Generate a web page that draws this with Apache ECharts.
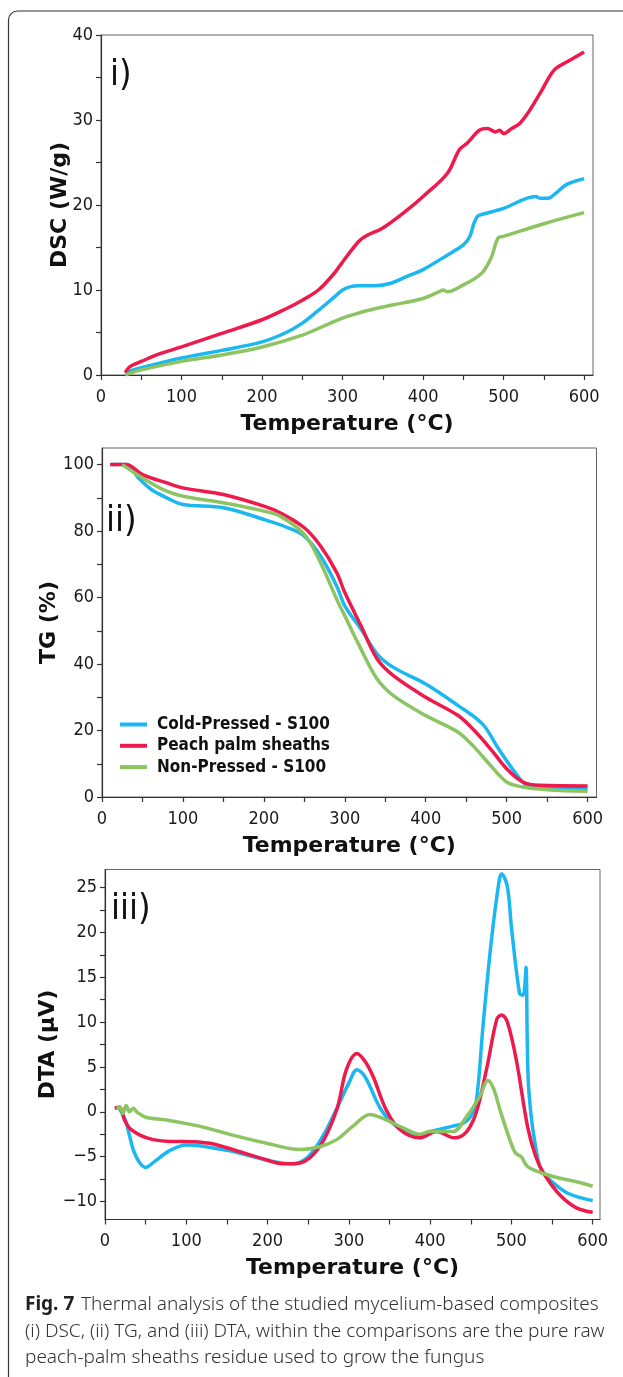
<!DOCTYPE html>
<html>
<head>
<meta charset="utf-8">
<script src="https://cdn.jsdelivr.net/npm/echarts@6/dist/echarts.min.js"></script>
<style>
  html, body { margin: 0; padding: 0; background: #fff; }
  #chart { width: 623px; height: 1377px; }
</style>
</head>
<body>
<div id="chart"></div>
<script>
// ---------- Tick labels ----------
const tempLabels = [0, 100, 200, 300, 400, 500, 600];
const tempTicks = [0, 50, 100, 150, 200, 250, 300, 350, 400, 450, 500, 550, 600];
const dscLabels = [0, 10, 20, 30, 40];
const dscTicks = [0, 5, 10, 15, 20, 25, 30, 35, 40];
const tgLabels = [0, 20, 40, 60, 80, 100];
const tgTicks = [0, 10, 20, 30, 40, 50, 60, 70, 80, 90, 100];
const dtaLabels = [-10, -5, 0, 5, 10, 15, 20, 25];
const dtaTicks = [-10, -7.5, -5, -2.5, 0, 2.5, 5, 7.5, 10, 12.5, 15, 17.5, 20, 22.5, 25];

const seriesNames = ['Cold-Pressed - S100', 'Peach palm sheaths', 'Non-Pressed - S100'];

// ---------- (i) DSC, W/g ----------
const dscColdT = [30, 40, 60, 100, 150, 200, 230, 250, 270, 290, 300, 310, 320, 340, 360, 380, 400, 430, 450, 458, 463, 467, 470, 500, 540, 545, 555, 565, 578, 600];
const dscCold  = [0.2, 0.6, 1.1, 2.0, 2.9, 3.9, 5.0, 6.1, 7.6, 9.2, 10.0, 10.4, 10.5, 10.5, 10.8, 11.6, 12.4, 14.1, 15.3, 16.3, 17.8, 18.6, 18.8, 19.6, 21.0, 20.8, 20.8, 21.4, 22.4, 23.1];
const dscPeachT = [30, 35, 40, 50, 70, 100, 150, 200, 230, 250, 270, 290, 300, 320, 330, 350, 380, 400, 430, 445, 455, 470, 480, 490, 495, 500, 510, 520, 530, 545, 563, 580, 600];
const dscPeach  = [0.3, 0.9, 1.2, 1.6, 2.4, 3.3, 4.9, 6.5, 7.8, 8.8, 10.0, 12.0, 13.3, 15.7, 16.4, 17.3, 19.4, 21.0, 23.7, 26.5, 27.3, 28.8, 29.0, 28.6, 28.8, 28.4, 29.0, 29.6, 30.8, 33.1, 35.9, 36.9, 38.0];
const dscNonT = [30, 50, 100, 150, 200, 250, 280, 300, 320, 340, 360, 400, 420, 425, 430, 450, 465, 475, 485, 493, 500, 550, 600];
const dscNon  = [0.0, 0.6, 1.6, 2.35, 3.3, 4.7, 5.9, 6.7, 7.3, 7.8, 8.2, 9.0, 9.8, 10.0, 9.8, 10.6, 11.4, 12.2, 13.9, 16.1, 16.3, 17.8, 19.1];

// ---------- (ii) TG, % ----------
const tgColdT = [12, 30, 45, 61, 80, 100, 150, 200, 230, 250, 270, 290, 300, 320, 340, 360, 400, 440, 470, 490, 510, 525, 550, 600];
const tgCold  = [100, 100, 96, 92.5, 90, 88, 87, 83.5, 81, 78.5, 72.5, 63.5, 57.5, 50.5, 43, 39, 34, 27.5, 22, 14.5, 7.5, 3.5, 2.7, 2.5];
const tgPeachT = [10, 30, 50, 80, 100, 150, 200, 220, 250, 270, 290, 300, 320, 340, 360, 400, 440, 460, 480, 500, 520, 540, 600];
const tgPeach  = [100, 100, 97, 94.5, 93, 91, 87.5, 85.5, 81, 75.5, 67.5, 61.5, 51.5, 41.5, 36.5, 30, 24.5, 20, 14.5, 8.5, 4.5, 3.5, 3.3];
const tgNonT = [25, 50, 80, 100, 150, 200, 220, 250, 270, 290, 300, 320, 340, 360, 400, 440, 460, 480, 500, 520, 550, 600];
const tgNon  = [100, 96, 92, 90.5, 88.5, 86, 84.5, 79, 70.5, 59.5, 54.5, 44.5, 35.5, 30.5, 24.5, 19.5, 15, 9.5, 4.5, 3, 2.2, 1.7];

// ---------- (iii) DTA, µV ----------
const dtaColdT = [18, 25, 30, 35, 42, 50, 60, 80, 100, 150, 200, 230, 250, 270, 290, 300, 310, 320, 340, 360, 387, 400, 428, 440, 450, 457, 465, 475, 485, 488, 495, 500, 510, 514, 516, 518, 519.5, 521, 525, 530, 535, 540, 550, 570, 600];
const dtaCold  = [0.3, -0.9, -2.6, -4.3, -5.6, -6.2, -5.6, -4.3, -3.7, -4.3, -5.4, -5.8, -5.0, -2.4, 1.3, 3.2, 4.7, 3.9, 0.2, -1.7, -2.6, -2.2, -1.6, -1.3, -0.5, 1.3, 9.5, 18.8, 25.8, 26.5, 25.1, 20.6, 13.2, 13.0, 13.5, 16.1, 8.0, 3.0, -1.0, -4.0, -6.1, -6.9, -7.8, -9.1, -9.9];
const dtaPeachT = [12, 18, 24, 30, 43, 59, 80, 100, 129, 150, 200, 220, 240, 264, 285, 297, 310, 320, 330, 346, 363, 387, 408, 430, 445, 457, 470, 482, 488, 495, 506, 520, 530, 540, 560, 580, 600];
const dtaPeach  = [0.4, 0.5, -0.9, -1.8, -2.6, -3.1, -3.3, -3.3, -3.5, -4.0, -5.4, -5.8, -5.7, -3.9, 0.2, 4.7, 6.5, 5.6, 3.9, 0.2, -2.0, -2.9, -2.2, -2.9, -2.2, 0.0, 5.0, 10.3, 10.8, 10.0, 5.8, -1.7, -5.0, -6.9, -9.3, -10.7, -11.2];
const dtaNonT = [15, 18, 22, 26, 30, 35, 39, 50, 75, 116, 157, 199, 240, 264, 285, 305, 326, 346, 367, 387, 400, 428, 445, 461, 471, 478, 486, 498, 505, 512, 520, 540, 560, 580, 600];
const dtaNon  = [0.3, 0.6, -0.2, 0.7, 0.0, 0.4, 0.0, -0.6, -0.9, -1.6, -2.6, -3.5, -4.2, -3.9, -3.1, -1.6, -0.3, -0.9, -1.8, -2.5, -2.2, -2.2, -0.5, 1.7, 3.5, 2.6, 0.2, -3.1, -4.6, -5.0, -6.1, -6.9, -7.4, -7.8, -8.3];

const COLORS = ['#1ab7f0', '#ee1a4c', '#8cc462'];
const TICK_FONT = "'DejaVu Sans Condensed', 'DejaVu Sans', sans-serif";
const BOLD_FONT = "'DejaVu Sans', sans-serif";

const zip = (t, v) => t.map((x, i) => [x, v[i]]);
const minus = v => (v < 0 ? '\u2212' + Math.abs(v) : String(v));

// panel placement in pixels
const grids = [
  { left: 101, top: 35, width: 492, height: 340, xMax: 611 },
  { left: 102, top: 448, width: 494.5, height: 349, xMax: 611 },
  { left: 105, top: 869.5, width: 495, height: 350, xMax: 609 }
];

function xAxis(i) {
  return {
    type: 'value', gridIndex: i, min: 0, max: grids[i].xMax,
    axisLine: { show: true, onZero: false, lineStyle: { color: '#333', width: 1.2 } },
    axisTick: { show: true, length: 5, customValues: tempTicks, lineStyle: { color: '#333', width: 1.2 } },
    axisLabel: { customValues: tempLabels, margin: 13, fontSize: 18, color: '#1a1a1a', fontFamily: TICK_FONT },
    splitLine: { show: false },
    name: 'Temperature (\u00B0C)', nameLocation: 'middle', nameGap: 38, nameMoveOverlap: false,
    nameTextStyle: { fontWeight: 'bold', fontSize: 22, color: '#111', fontFamily: BOLD_FONT }
  };
}

function yAxis(i, min, max, labels, ticks, name, gap) {
  return {
    type: 'value', gridIndex: i, min: min, max: max,
    axisLine: { show: true, onZero: false, lineStyle: { color: '#333', width: 1.2 } },
    axisTick: { show: true, length: 5, customValues: ticks, lineStyle: { color: '#333', width: 1.2 } },
    axisLabel: { customValues: labels, margin: 8, fontSize: 18, color: '#1a1a1a', fontFamily: TICK_FONT, formatter: minus },
    splitLine: { show: false },
    name: name, nameLocation: 'middle', nameGap: gap, nameRotate: 90, nameMoveOverlap: false,
    nameTextStyle: { fontWeight: 'bold', fontSize: 22, color: '#111', fontFamily: BOLD_FONT }
  };
}

function line(name, color, data, i) {
  return {
    type: 'line', name: name, xAxisIndex: i, yAxisIndex: i,
    data: data, showSymbol: false, smooth: 0.35,
    lineStyle: { color: color, width: 3.5 }, itemStyle: { color: color },
    z: 3
  };
}

const panels = [
  [zip(dscColdT, dscCold), zip(dscPeachT, dscPeach), zip(dscNonT, dscNon)],
  [zip(tgColdT, tgCold), zip(tgPeachT, tgPeach), zip(tgNonT, tgNon)],
  [zip(dtaColdT, dtaCold), zip(dtaPeachT, dtaPeach), zip(dtaNonT, dtaNon)]
];

const series = [];
panels.forEach((p, i) => p.forEach((d, k) => series.push(line(seriesNames[k], COLORS[k], d, i))));

function panelTag(text, x, y) {
  return {
    type: 'text', x: x, y: y, z: 10,
    style: { text: text, fill: '#111', font: "36px 'DejaVu Sans Condensed', 'DejaVu Sans', sans-serif", textVerticalAlign: 'middle' }
  };
}

const captionFont = "'Noto Sans', 'Open Sans', sans-serif";

const chart = echarts.init(document.getElementById('chart'), null, { renderer: 'canvas' });
chart.setOption({
  animation: false,
  backgroundColor: '#fff',
  grid: grids.map(g => ({
    left: g.left, top: g.top, width: g.width, height: g.height,
    show: true, borderColor: '#666', borderWidth: 1, backgroundColor: 'transparent'
  })),
  xAxis: [xAxis(0), xAxis(1), xAxis(2)],
  yAxis: [
    yAxis(0, 0, 40, dscLabels, dscTicks, 'DSC (W/g)', 30),
    yAxis(1, 0, 105, tgLabels, tgTicks, 'TG (%)', 42),
    yAxis(2, -12, 27, dtaLabels, dtaTicks, 'DTA (\u00B5V)', 46)
  ],
  legend: {
    data: seriesNames,
    orient: 'vertical', left: 115, top: 711,
    itemWidth: 27, itemHeight: 4, itemGap: 4.3,
    icon: 'rect',
    textStyle: { fontSize: 17, lineHeight: 17, fontWeight: 'bold', color: '#111', fontFamily: TICK_FONT, padding: [0, 0, 0, 5] }
  },
  series: series,
  graphic: [
    {
      type: 'rect', z: 0, silent: true,
      shape: { x: 8.5, y: 11, width: 700, height: 1390, r: 9 },
      style: { fill: 'none', stroke: '#333', lineWidth: 1.2 }
    },
    panelTag('i)', 110, 76),
    panelTag('ii)', 106, 522),
    panelTag('iii)', 111, 910),
    {
      type: 'text', x: 25, y: 1305, z: 10,
      style: {
        text: '{b|Fig. 7}  {n|Thermal analysis of the studied mycelium-based composites}',
        textVerticalAlign: 'middle',
        rich: {
          b: { fontFamily: captionFont, fontWeight: 'bold', fontSize: 19, fill: '#222' },
          n: { fontFamily: captionFont, fontWeight: 300, fontSize: 19, fill: '#333' }
        }
      }
    },
    {
      type: 'text', x: 25, y: 1332, z: 10,
      style: {
        text: '(i) DSC, (ii) TG, and (iii) DTA, within the comparisons are the pure raw',
        textVerticalAlign: 'middle',
        font: "300 19px " + captionFont, fill: '#333'
      }
    },
    {
      type: 'text', x: 25, y: 1358, z: 10,
      style: {
        text: 'peach-palm sheaths residue used to grow the fungus',
        textVerticalAlign: 'middle',
        font: "300 19px " + captionFont, fill: '#333'
      }
    }
  ]
});
</script>
</body>
</html>
